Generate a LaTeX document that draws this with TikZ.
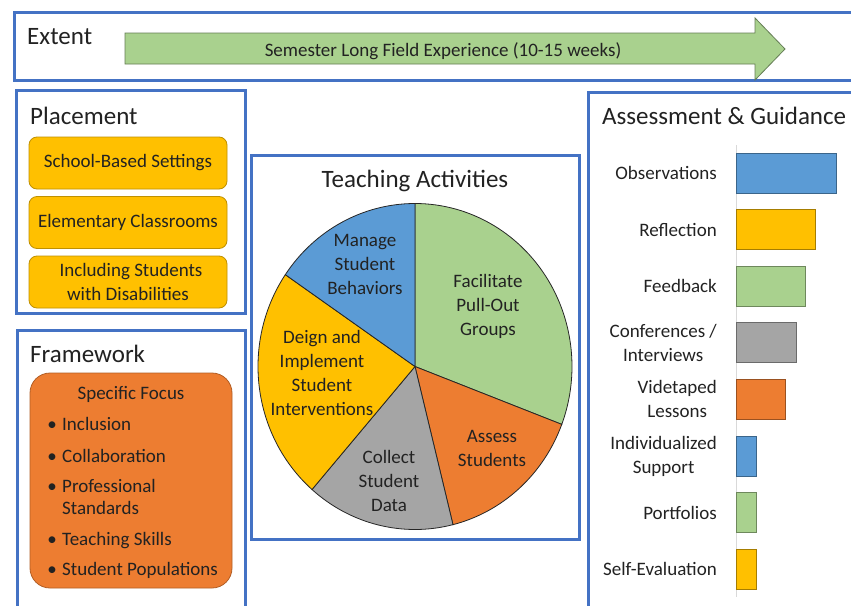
\documentclass[tikz,border=0pt]{standalone}
\usepackage{fontspec}
\setmainfont{Carlito}
\definecolor{frameblue}{HTML}{4472C4}
\definecolor{pgreen}{HTML}{A9D18E}
\definecolor{pyellow}{HTML}{FFC000}
\definecolor{porange}{HTML}{ED7D31}
\definecolor{pgray}{HTML}{A5A5A5}
\definecolor{pblue}{HTML}{5B9BD5}
\definecolor{inkgray}{HTML}{222222}
\begin{document}
\begin{tikzpicture}[x=1pt,y=-1pt,
  every node/.style={text=inkgray},
  frame/.style={draw=frameblue,line width=3},
  titletext/.style={font=\fontsize{25}{30}\selectfont,inner sep=0},
  bodytext/.style={font=\fontsize{19}{24}\selectfont,inner sep=0,align=center},
  placebox/.style={bodytext,fill=pyellow,draw=pyellow!75!black,line width=0.8,
    rounded corners=8,minimum width=198,minimum height=52},
  focusbox/.style={fill=porange,draw=porange!75!black,line width=0.8,
    rounded corners=20,minimum width=202,minimum height=215,inner sep=0},
  slice/.style={fill=#1,draw=black!85,line width=0.8},
  bar/.style={fill=#1,draw=#1!65!black,line width=1},
  barlabel/.style={bodytext,anchor=east},
  itemtext/.style={bodytext,align=left,anchor=base west},
  bulletmark/.style={bodytext,anchor=base}]
\useasboundingbox (0,0) rectangle (851,605);
\fill[white] (0,0) rectangle (851,605);

% ---- Extent ----
\draw[frame] (14,12) rectangle (880,80);
\node[titletext,anchor=base west] (extent) at (27,44) {Extent};
\draw[fill=pgreen,draw=pgreen!60!black,line width=0.8]
  (125,33) -- (755,33) -- (755,18) -- (785,49) -- (755,80) -- (755,64) -- (125,64) -- cycle;
\node[bodytext] (semester) at (443,51) {Semester Long Field Experience (10-15 weeks)};

% ---- Placement ----
\draw[frame] (16,90) rectangle (245,313);
\node[titletext,anchor=base west] (placement) at (30,124) {Placement};
\node[placebox] (pb1) at (128,163) {School-Based Settings};
\node[placebox] (pb2) at (128,222.5) {Elementary Classrooms};
\node[placebox] (pb3) at (128,282) {\hspace*{6pt}Including Students\\with Disabilities};

% ---- Framework ----
\draw[frame] (17,330) rectangle (245,640);
\node[titletext,anchor=base west] (framework) at (30,362) {Framework};
\node[focusbox] (focus) at (131,480.5) {};
\node[bodytext,anchor=base] (focustitle) at (131,399) {Specific Focus};
\foreach \y/\txt [count=\k] in {430/Inclusion, 462/Collaboration,
    514/{Professional\\[-2pt]Standards}, 545/Teaching Skills, 575/Student Populations}{
  \node[itemtext] (item\k) at (62,\y) {\txt};
}
\foreach \y [count=\k] in {430,462,492,545,575}
  \node[bulletmark] (bul\k) at (52,\y) {\textbullet};

% ---- Teaching Activities ----
\draw[frame] (251,155) rectangle (579,539);
\node[titletext,anchor=base] (teaching) at (415,187) {Teaching Activities};
\coordinate (pc) at (415,366.5);
\foreach \a/\b/\c in {-90/20.8/pgreen, 20.8/76/porange, 76/131/pgray,
    131/214.3/pyellow, 214.3/270/pblue}
  \draw[slice=\c] (pc) -- +(\a:157 and 163)
    arc[start angle=\a, end angle=\b, x radius=157, y radius=163] -- cycle;
\node[bodytext] (manage) at (365,264) {Manage\\Student\\Behaviors};
\node[bodytext] (facilitate) at (488,306) {Facilitate\\Pull-Out\\Groups};
\node[bodytext] (design) at (322,373) {Deign and\\Implement\\Student\\Interventions};
\node[bodytext] (collect) at (389,481) {Collect\\Student\\Data};
\node[bodytext] (assess) at (492,448) {Assess\\Students};

% ---- Assessment & Guidance ----
\draw[frame] (588,92) rectangle (880,640);
\node[titletext,anchor=base west] (assessment) at (602,124) {Assessment \& Guidance};
\draw[black!15,line width=1] (736,145) -- (736,597);
\foreach \len/\c/\lab [count=\i from 0] in {100/pblue/Observations, 79/pyellow/Reflection,
    69/pgreen/Feedback, 60/pgray/{Conferences /\\Interviews}, 49/porange/{Videtaped\\Lessons},
    20/pblue/{Individualized\\Support}, 20/pgreen/Portfolios, 20/pyellow/Self-Evaluation}{
  \draw[bar=\c] (736,{153+56.6*\i}) rectangle ({736+\len},{193+56.6*\i});
  \node[barlabel] (lab\i) at (717,{173+56.6*\i}) {\lab};
}
\end{tikzpicture}
\end{document}
